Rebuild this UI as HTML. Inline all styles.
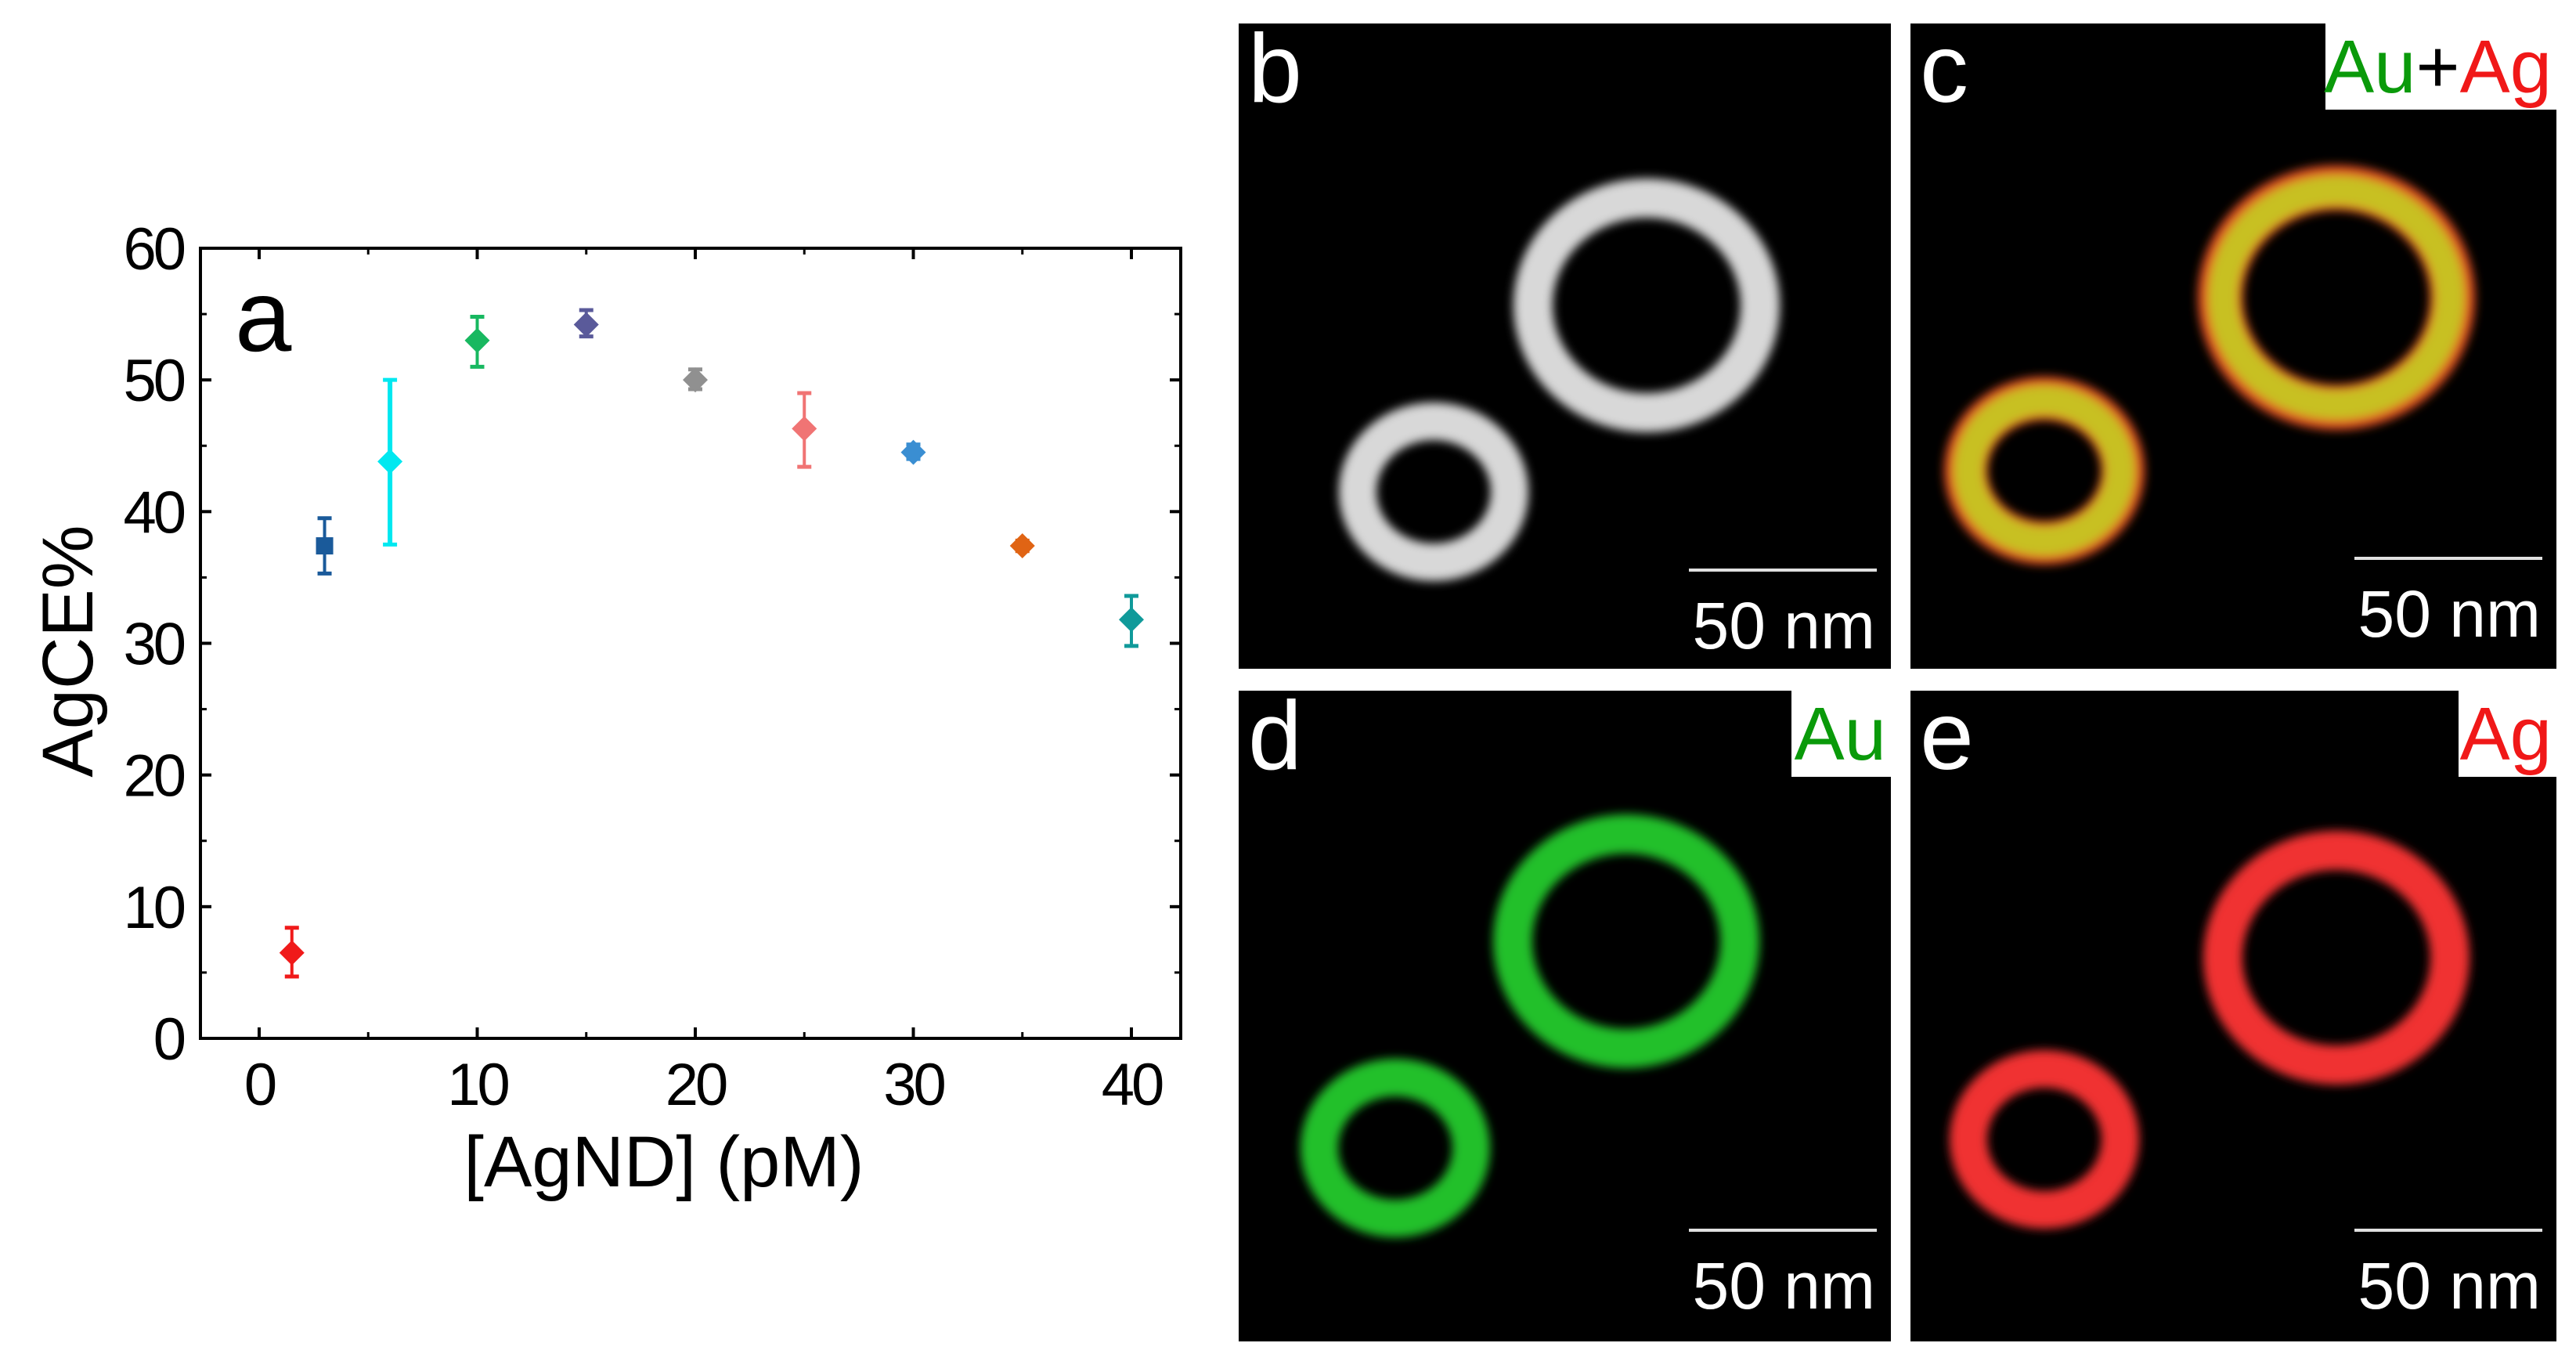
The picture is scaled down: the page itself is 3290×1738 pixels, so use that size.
<!DOCTYPE html>
<html><head><meta charset="utf-8"><style>
html,body{margin:0;padding:0;background:#fff}
svg{display:block}
text{font-family:"Liberation Sans",Arial,sans-serif}
</style></head><body>
<svg id="root" width="3290" height="1738" viewBox="0 0 3290 1738" xmlns="http://www.w3.org/2000/svg">
<defs>
<filter id="blur6"><feGaussianBlur stdDeviation="6"/></filter>
</defs>
<g id="chart"></g>
<g id="panels"></g>
</svg>
<script>
const xVals=[1.5,3,6,10,15,20,25,30,35,40];
const yVals=[6.5,37.4,43.8,53,54.2,50,46.3,44.5,37.4,31.8];
const yLow=[4.7,35.3,37.5,51,53.3,49.3,43.4,44,37,29.8];
const yHigh=[8.4,39.5,50,54.8,55.3,50.8,49,45.1,37.8,33.6];
const colors=['#f01a1a','#1a5a9a','#00e8f0','#18b860','#5a5a9a','#909090','#f07474','#3a8ed2','#e06414','#109a9a'];
const xTicks=[0,10,20,30,40];
const yTicks=[0,10,20,30,40,50,60];
const NS='http://www.w3.org/2000/svg';
const L=256,R=1508,T=317,B=1326;
const X0=331,XS=27.85;
const xs=v=>X0+v*XS;
const ys=v=>B-(v/60)*(B-T);
function mk(tag,attrs,parent){const e=document.createElementNS(NS,tag);for(const k in attrs)e.setAttribute(k,attrs[k]);parent.appendChild(e);return e;}
const c=document.getElementById('chart');
const frame=mk('rect',{x:L,y:T,width:R-L,height:B-T,fill:'none',stroke:'#000','stroke-width':4},c);


xTicks.forEach(t=>{
 const x=xs(t);
 const tk=mk('line',{x1:x,x2:x,y1:B,y2:B-14,stroke:'#000','stroke-width':4},c);
 
 
 mk('line',{x1:x,x2:x,y1:T,y2:T+14,stroke:'#000','stroke-width':4},c);
 const lb=mk('text',{x:x,y:B+85,'font-size':76,'text-anchor':'middle',fill:'#000','letter-spacing':-4},c);
 lb.textContent=t;
 
 
});
[5,15,25,35].forEach(t=>{const x=xs(t);mk('line',{x1:x,x2:x,y1:B,y2:B-8,stroke:'#000','stroke-width':3},c);mk('line',{x1:x,x2:x,y1:T,y2:T+8,stroke:'#000','stroke-width':3},c);});
yTicks.forEach(t=>{
 const y=ys(t);
 const tk=mk('line',{x1:L,x2:L+14,y1:y,y2:y,stroke:'#000','stroke-width':4},c);
 
 
 mk('line',{x1:R,x2:R-14,y1:y,y2:y,stroke:'#000','stroke-width':4},c);
 const lb=mk('text',{x:L-22,y:y+27,'font-size':76,'text-anchor':'end',fill:'#000','letter-spacing':-4},c);
 lb.textContent=t;
 
 
 if(t<60){const ym=ys(t+5);mk('line',{x1:L,x2:L+8,y1:ym,y2:ym,stroke:'#000','stroke-width':3},c);mk('line',{x1:R,x2:R-8,y1:ym,y2:ym,stroke:'#000','stroke-width':3},c);}
});
const xt=mk('text',{x:xs(20)-40,y:1515,'font-size':92,'text-anchor':'middle',fill:'#000'},c);
xt.textContent='[AgND] (pM)';


const yt=mk('text',{x:118,y:(T+B)/2+10,'font-size':92,'text-anchor':'middle',fill:'#000',transform:'rotate(-90 118 '+((T+B)/2+10)+')'},c);
yt.textContent='AgCE%';


const pa=mk('text',{x:300,y:448,'font-size':130,fill:'#000'},c);
pa.textContent='a';


xVals.forEach((v,i)=>{
 const x=xs(v),col=colors[i];
 const g=mk('g',{},c);
 
 
 const y1=ys(yLow[i]),y2=ys(yHigh[i]);
 mk('line',{x1:x,x2:x,y1:y1,y2:y2,stroke:col,'stroke-width':i==2?6:4},g);
 mk('line',{x1:x-9,x2:x+9,y1:y1,y2:y1,stroke:col,'stroke-width':5},g);
 mk('line',{x1:x-9,x2:x+9,y1:y2,y2:y2,stroke:col,'stroke-width':5},g);
 const y=ys(yVals[i]),s=i==1?12:16;
 if(i==1)mk('rect',{x:x-11,y:y-11,width:22,height:22,fill:col},g);
 else mk('path',{d:`M${x} ${y-s}L${x+s} ${y}L${x} ${y+s}L${x-s} ${y}Z`,fill:col},g);
});
const P=document.getElementById('panels');
const panels=[
 {id:'b',x:1582,y:30,w:833,h:824,big:[521,360],small:[249,598],mode:'gray'},
 {id:'c',x:2440,y:30,w:825,h:824,big:[544,350],small:[171,571],mode:'mix'},
 {id:'d',x:1582,y:882,w:833,h:831,big:[495,320],small:[200,584],mode:'green'},
 {id:'e',x:2440,y:882,w:825,h:831,big:[544,341],small:[171,573],mode:'red'}
];
const modeCol={gray:'#d8d8d8',mix:'#c8c020',green:'#22c02a',red:'#f03030'};
panels.forEach(p=>{
 const g=mk('g',{},P);
 
 
 mk('rect',{x:p.x,y:p.y,width:p.w,height:p.h,fill:'#000'},g);
 const col=modeCol[p.mode];
 const bx=p.x+p.big[0],by=p.y+p.big[1],sx=p.x+p.small[0],sy=p.y+p.small[1];
 const rg=mk('g',{filter:'url(#blur6)'},g);
 if(p.mode==='mix'){
  mk('ellipse',{cx:bx,cy:by,rx:148,ry:140,fill:'none',stroke:'#e05020','stroke-width':58},rg);
  mk('ellipse',{cx:sx,cy:sy,rx:100,ry:92,fill:'none',stroke:'#e05020','stroke-width':56},rg);
 }
 mk('ellipse',{cx:bx,cy:by,rx:145,ry:137,fill:'none',stroke:col,'stroke-width':p.mode==='mix'?38:50},rg);
 mk('ellipse',{cx:sx,cy:sy,rx:97,ry:90,fill:'none',stroke:col,'stroke-width':p.mode==='mix'?38:48},rg);
 const lt=mk('text',{x:p.x+12,y:p.y+100,'font-size':124,fill:'#fff'},g);
 lt.textContent=p.id;
 
 
 const ly=p.y+(p.id==='b'?698:p.id==='c'?683:689);
 const sb=mk('line',{x1:p.x+p.w-258,x2:p.x+p.w-18,y1:ly,y2:ly,stroke:'#e0e0e0','stroke-width':4},g);
 
 
 const st=mk('text',{x:p.x+p.w-20,y:ly+100,'font-size':84,'text-anchor':'end',fill:'#fff'},g);
 st.textContent='50 nm';
 
 
});
function legend(x,y,w,h,parts,name){
 const g=mk('g',{},P);
 
 
 mk('rect',{x:x,y:y,width:w,height:h,fill:'#fff'},g);
 const t=mk('text',{x:x+w-6,y:y+h-22,'font-size':96,'text-anchor':'end'},g);
 parts.forEach(([s,cl])=>{const ts=mk('tspan',{fill:cl},t);ts.textContent=s;});
}
legend(2970,30,295,110,[['Au','#0a9a0a'],['+','#000'],['Ag','#f01818']],'legend-au-ag');
legend(2288,882,127,110,[['Au','#0a9a0a']],'legend-au');
legend(3140,882,125,110,[['Ag','#f01818']],'legend-ag');
</script>
</body></html>
